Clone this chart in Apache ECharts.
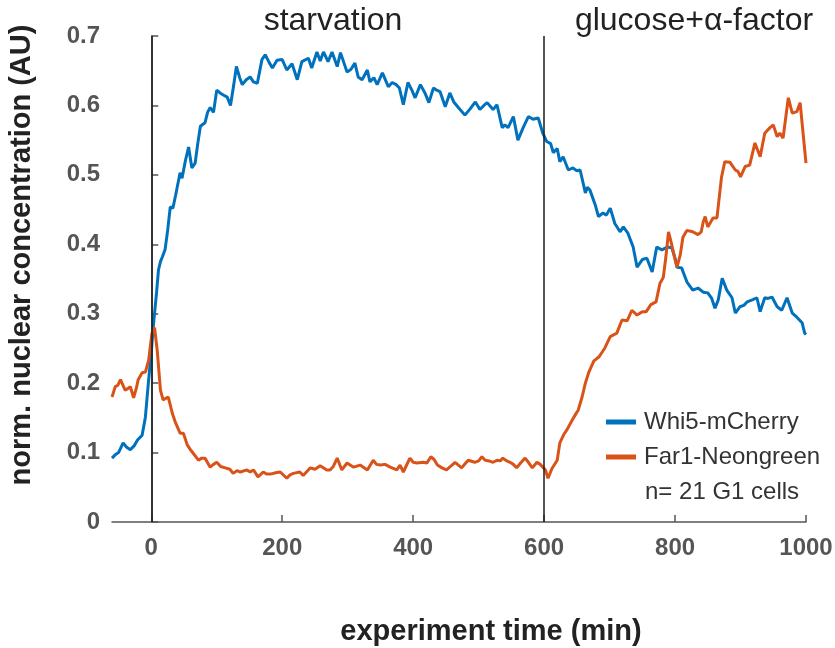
<!DOCTYPE html>
<html>
<head>
<meta charset="utf-8">
<script src="https://cdn.jsdelivr.net/npm/echarts@6/dist/echarts.min.js"></script>
<style>html,body{margin:0;padding:0;background:#fff}#c{width:835px;height:648px}</style>
</head>
<body>
<div id="c"></div>
<script>
// ---- data ----
const whi5Time = [-60,-55,-50,-43,-38,-32,-26,-21,-14,-9,-4.5,0,3,8,11,14,17,21,25,29,33,37,44,47,52,57,62,67,71,75,82,86,90,95,100,105,110,116,121,126,130,135,139,145,151,156,162,169,174,180,185,192,200,207,215,223,230,240,245,253,258,263,270,276,284,289,294,299,305,311,316,322,330,334,340,345,353,362,368,374,379,385,392,398,403,411,418,424,431,436,441,449,456,462,469,479,487,495,502,508,513,522,528,536,540,545,553,560,568,576,583,591,598,604,610,614,620,624,629,637,644,650,655,663,666,670,678,683,690,695,701,708,716,721,728,736,742,750,757,765,772,780,788,795,800,803,810,818,827,835,843,850,856,861,866,872,879,887,892,899,905,910,918,925,930,937,942,948,956,963,971,979,986,994,998,1000];
const whi5Value = [0.092,0.097,0.100,0.114,0.108,0.104,0.110,0.118,0.125,0.151,0.200,0.245,0.281,0.330,0.363,0.375,0.382,0.392,0.420,0.454,0.452,0.470,0.503,0.495,0.520,0.540,0.510,0.517,0.545,0.570,0.575,0.590,0.597,0.590,0.622,0.618,0.615,0.612,0.600,0.630,0.656,0.640,0.630,0.637,0.641,0.634,0.632,0.666,0.673,0.662,0.654,0.665,0.666,0.651,0.660,0.637,0.663,0.668,0.654,0.677,0.664,0.677,0.663,0.677,0.656,0.676,0.662,0.648,0.652,0.661,0.641,0.637,0.651,0.634,0.640,0.630,0.647,0.627,0.633,0.630,0.625,0.601,0.633,0.622,0.611,0.630,0.618,0.604,0.625,0.622,0.620,0.598,0.618,0.605,0.597,0.586,0.595,0.605,0.594,0.600,0.604,0.594,0.601,0.568,0.572,0.568,0.584,0.550,0.568,0.584,0.580,0.582,0.560,0.548,0.545,0.532,0.538,0.519,0.526,0.507,0.510,0.506,0.507,0.474,0.482,0.478,0.457,0.440,0.445,0.442,0.452,0.430,0.418,0.425,0.416,0.396,0.367,0.378,0.380,0.360,0.396,0.392,0.396,0.395,0.380,0.367,0.366,0.346,0.334,0.337,0.331,0.330,0.322,0.308,0.320,0.351,0.334,0.323,0.301,0.310,0.312,0.317,0.320,0.323,0.303,0.323,0.322,0.324,0.310,0.305,0.323,0.301,0.295,0.287,0.272,0.270];

const far1Time = [-60,-55,-51,-47,-44,-40,-36,-32,-27,-23,-20,-14,-9,-4,1,5,9,14,18,22,26,32,37,44,49,55,60,64,72,77,82,90,95,100,106,113,120,125,131,136,146,151,156,163,171,176,182,190,197,207,212,217,227,232,243,250,258,268,273,278,284,291,299,309,319,330,339,344,350,357,365,375,380,385,395,400,406,415,421,427,432,437,444,451,458,464,474,484,494,500,505,510,516,522,528,533,537,543,548,553,558,565,571,576,582,589,594,598,602,606,612,620,624,630,635,643,648,652,658,663,668,676,684,693,701,711,719,727,734,742,750,756,763,771,777,782,786,790,795,800,803,808,812,818,827,835,840,843,846,850,858,864,871,876,884,892,896,900,907,914,922,930,937,945,950,956,960,965,973,979,986,991,995,1000];
const far1Value = [0.180,0.195,0.197,0.205,0.207,0.190,0.192,0.195,0.179,0.192,0.205,0.215,0.216,0.233,0.272,0.280,0.248,0.190,0.176,0.178,0.180,0.157,0.143,0.128,0.128,0.111,0.104,0.099,0.089,0.092,0.092,0.079,0.083,0.086,0.080,0.078,0.076,0.070,0.074,0.072,0.075,0.072,0.075,0.065,0.072,0.069,0.069,0.071,0.072,0.063,0.068,0.070,0.072,0.067,0.078,0.076,0.081,0.075,0.075,0.080,0.092,0.075,0.085,0.079,0.082,0.075,0.089,0.083,0.082,0.083,0.079,0.075,0.082,0.072,0.092,0.086,0.085,0.086,0.085,0.094,0.090,0.082,0.078,0.075,0.081,0.086,0.078,0.089,0.086,0.088,0.094,0.089,0.088,0.086,0.089,0.088,0.092,0.088,0.086,0.083,0.078,0.086,0.092,0.086,0.078,0.086,0.083,0.079,0.075,0.063,0.077,0.089,0.114,0.126,0.133,0.147,0.155,0.161,0.180,0.200,0.215,0.232,0.238,0.251,0.267,0.272,0.291,0.290,0.305,0.298,0.303,0.303,0.313,0.317,0.344,0.352,0.382,0.418,0.399,0.378,0.367,0.385,0.410,0.420,0.418,0.414,0.418,0.432,0.440,0.425,0.438,0.438,0.497,0.519,0.518,0.507,0.505,0.497,0.512,0.514,0.546,0.526,0.560,0.568,0.572,0.555,0.560,0.553,0.611,0.589,0.591,0.604,0.565,0.517];

const seriesNames = ['Whi5-mCherry', 'Far1-Neongreen'];
const xTicks = [0, 200, 400, 600, 800, 1000];
const phaseLines = [0, 600];
const phaseLabels = ['starvation', 'glucose+\u03b1-factor'];
const xAxisTitle = 'experiment time (min)';
const yAxisTitle = 'norm. nuclear concentration (AU)';
const noteText = 'n= 21 G1 cells';

const pairs = (t, v) => t.map((x, i) => [x, v[i]]);
const FONT = '"Liberation Sans", Arial, sans-serif';
const axisGray = '#555555';

const chart = echarts.init(document.getElementById('c'), null, {renderer: 'canvas'});
chart.setOption({
  animation: false,
  backgroundColor: '#ffffff',
  grid: {left: 112, right: 29, top: 36, bottom: 126, containLabel: false, outerBoundsMode: 'none'},
  xAxis: {
    type: 'value', min: -60, max: 1000,
    axisLine: {show: true, onZero: false, lineStyle: {color: axisGray, width: 1.5}},
    axisTick: {show: true, inside: true, length: 7, customValues: xTicks, lineStyle: {color: axisGray, width: 1.5}},
    axisLabel: {show: true, customValues: xTicks, margin: 14, color: axisGray, fontSize: 24, fontWeight: 'bold', fontFamily: FONT,
      formatter: v => String(v)},
    splitLine: {show: false}
  },
  yAxis: {
    type: 'value', min: 0, max: 0.7, interval: 0.1,
    axisLine: {show: true, lineStyle: {color: axisGray, width: 1.5}},
    axisTick: {show: true, inside: true, length: 7, lineStyle: {color: axisGray, width: 1.5}},
    axisLabel: {margin: 12, color: axisGray, fontSize: 24, fontWeight: 'bold', fontFamily: FONT,
      formatter: v => (v === 0 ? '0' : v.toFixed(1))},
    splitLine: {show: false}
  },
  legend: {
    orient: 'vertical', left: 606, top: 410, padding: 0, itemGap: 11,
    itemWidth: 30, itemHeight: 5, icon: 'rect',
    textStyle: {fontSize: 24, color: '#333333', fontFamily: FONT, padding: [0, 0, 0, 3]},
    data: seriesNames
  },
  series: [
    {
      name: seriesNames[0], type: 'line', showSymbol: false, symbol: 'none',
      data: pairs(whi5Time, whi5Value),
      lineStyle: {color: '#0072BD', width: 3}, itemStyle: {color: '#0072BD'},
      markLine: {
        silent: true, symbol: ['none', 'none'], label: {show: false},
        lineStyle: {color: '#1a1a1a', width: 1.5, type: 'solid'},
        data: phaseLines.map(x => ({xAxis: x}))
      },
      z: 3
    },
    {
      name: seriesNames[1], type: 'line', showSymbol: false, symbol: 'none',
      data: pairs(far1Time, far1Value),
      lineStyle: {color: '#D95319', width: 3}, itemStyle: {color: '#D95319'},
      z: 4
    }
  ],
  graphic: [
    {type: 'text', x: 333, y: 21, style: {text: phaseLabels[0], font: '32px ' + FONT, fill: '#222222', textAlign: 'center', textVerticalAlign: 'middle'}},
    {type: 'text', x: 694, y: 21, style: {text: phaseLabels[1], font: '32px ' + FONT, fill: '#222222', textAlign: 'center', textVerticalAlign: 'middle'}},
    {type: 'text', x: 491, y: 632, style: {text: xAxisTitle, font: 'bold 29px ' + FONT, fill: '#222222', textAlign: 'center', textVerticalAlign: 'middle'}},
    {type: 'text', x: 22, y: 255, rotation: Math.PI / 2, style: {text: yAxisTitle, font: 'bold 29px ' + FONT, fill: '#222222', textAlign: 'center', textVerticalAlign: 'middle'}},
    {type: 'text', x: 645, y: 492, style: {text: noteText, font: '24px ' + FONT, fill: '#333333', textAlign: 'left', textVerticalAlign: 'middle'}}
  ]
});
</script>
</body>
</html>
